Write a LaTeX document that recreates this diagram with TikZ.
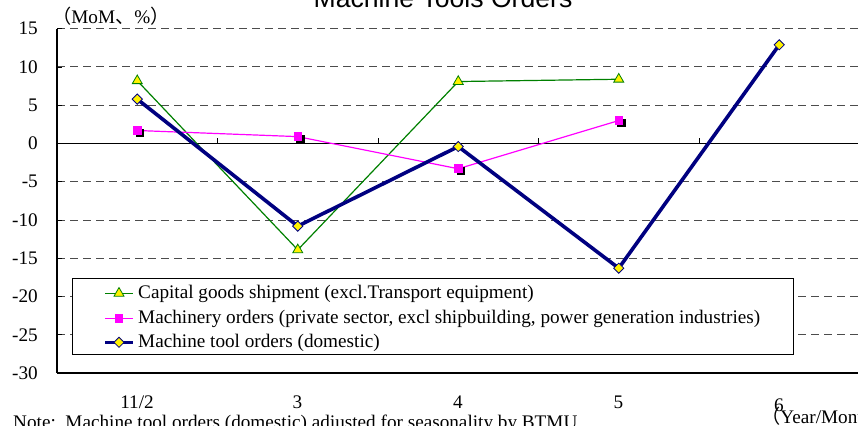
\documentclass[tikz,border=0pt]{standalone}
\usepackage{fontspec}
\setmainfont{Liberation Serif}
\newfontfamily\titlefont{Liberation Sans}
\newfontfamily\cjk{Noto Sans CJK JP}
\usetikzlibrary{shapes.geometric}
\definecolor{navyline}{RGB}{0,0,128}
\definecolor{greenline}{RGB}{0,128,0}
\definecolor{pinkline}{RGB}{255,0,255}
\tikzset{
  grid line/.style={dash pattern=on 8pt off 5pt, line width=1pt, black!70},
  tri mark/.style={regular polygon, regular polygon sides=3, draw=greenline, fill=yellow,
    inner sep=0pt, minimum size=11.5pt, line width=0.8pt},
  sq mark/.style={rectangle, fill=pinkline, minimum size=8.5pt, inner sep=0pt},
  dia mark/.style={diamond, draw=navyline, fill=yellow, minimum size=10.5pt, inner sep=0pt, line width=0.8pt},
  lbl/.style={font=\fontsize{19.2}{21}\selectfont, inner sep=0pt},
  green line/.style={greenline, line width=1.2pt},
  pink line/.style={pinkline, line width=1.2pt},
  navy line/.style={navyline, line width=3.6pt, line join=round},
}
\begin{document}
\begin{tikzpicture}[x=1pt,y=-1pt]
  \useasboundingbox (0,0) rectangle (858,425);
  \node[font=\titlefont\fontsize{26.6}{28}\selectfont, anchor=base, inner sep=0pt] (title) at (443,7.5) {Machine Tools Orders};
  \begin{scope}[shift={(57,143.5)}, x=160.5pt, y=7.65pt]
    \foreach \v in {15,10,5,-5,-10,-15,-20,-25}
      \draw[grid line] (0,\v) -- (5.02,\v);
    \draw[line width=0.9pt] (0,0) -- (5.02,0);
    \foreach \c in {1,...,4}
      \draw[line width=0.8pt] (\c,0) -- ++(0,6pt);
    \draw[line width=1.5pt] (0,-30) -- (5.02,-30);
    \draw[line width=2pt] (0,15) -- (0,-30);
    \foreach \v in {15,10,...,-30} {
      \draw[line width=0.8pt] (0,\v) -- ++(5pt,0);
      \node[lbl, anchor=east] (ylab\v) at ([xshift=-19pt]0,\v) {\v};
    }
    \foreach \v [count=\i] in {8.2,-13.9,8.1,8.4}
      \coordinate (cg\i) at (\i-0.5,\v);
    \foreach \v [count=\i] in {1.7,0.9,-3.3,3.0}
      \coordinate (mo\i) at (\i-0.5,\v);
    \foreach \v [count=\i] in {5.8,-10.8,-0.4,-16.3,12.9}
      \coordinate (mt\i) at (\i-0.5,\v);
    \draw[green line] (cg1) \foreach \i in {2,3,4} {-- (cg\i)};
    \draw[pink line] (mo1) \foreach \i in {2,3,4} {-- (mo\i)};
    \draw[navy line] (mt1) \foreach \i in {2,...,5} {-- (mt\i)};
    \foreach \i in {1,...,4} {
      \node[tri mark] (cgm\i) at (cg\i) {};
      \node[sq mark, fill=black] (mos\i) at ([xshift=2.5pt,yshift=-2.5pt]mo\i) {};
      \node[sq mark] (mom\i) at (mo\i) {};
    }
    \foreach \i in {1,...,5}
      \node[dia mark] (mtm\i) at (mt\i) {};
  \end{scope}
  \node[draw, fill=white, line width=0.9pt, anchor=north west, minimum width=721pt,
    minimum height=76pt, inner sep=0pt] (legend) at (72,278) {};
  \foreach \y/\s/\m/\t [count=\i] in {293.3/green line/tri mark/Capital goods shipment (excl.Transport equipment),
      318.3/pink line/sq mark/{Machinery orders (private sector, excl shipbuilding, power generation industries)},
      342.3/navy line/dia mark/Machine tool orders (domestic)} {
    \coordinate (lgA\i) at (105,\y);
    \coordinate (lgB\i) at (133,\y);
    \draw[\s] (lgA\i) -- (lgB\i);
    \node[\m] (lgm\i) at (119,\y) {};
    \node[lbl, anchor=base west] (lgt\i) at (138,\y+5) {\t};
  }
  \node[lbl, anchor=base west] (unit) at (52,24) {{\cjk （}MoM{\cjk 、}\%{\cjk ）}};
  \foreach \c [count=\i from 0] in {11/2,3,4,5}
    \node[lbl, anchor=base] (cat\i) at (137+160.5*\i,408) {\c};
  \node[lbl, anchor=base] (cat4) at (779,411) {6};
  \node[lbl, anchor=base west] (axisname) at (761,423) {{\cjk （}Year/Month{\cjk ）}};
  \node[lbl, anchor=base west] (note) at (13,428) {Note:\ \ Machine tool orders (domestic) adjusted for seasonality by BTMU};
\end{tikzpicture}
\end{document}
